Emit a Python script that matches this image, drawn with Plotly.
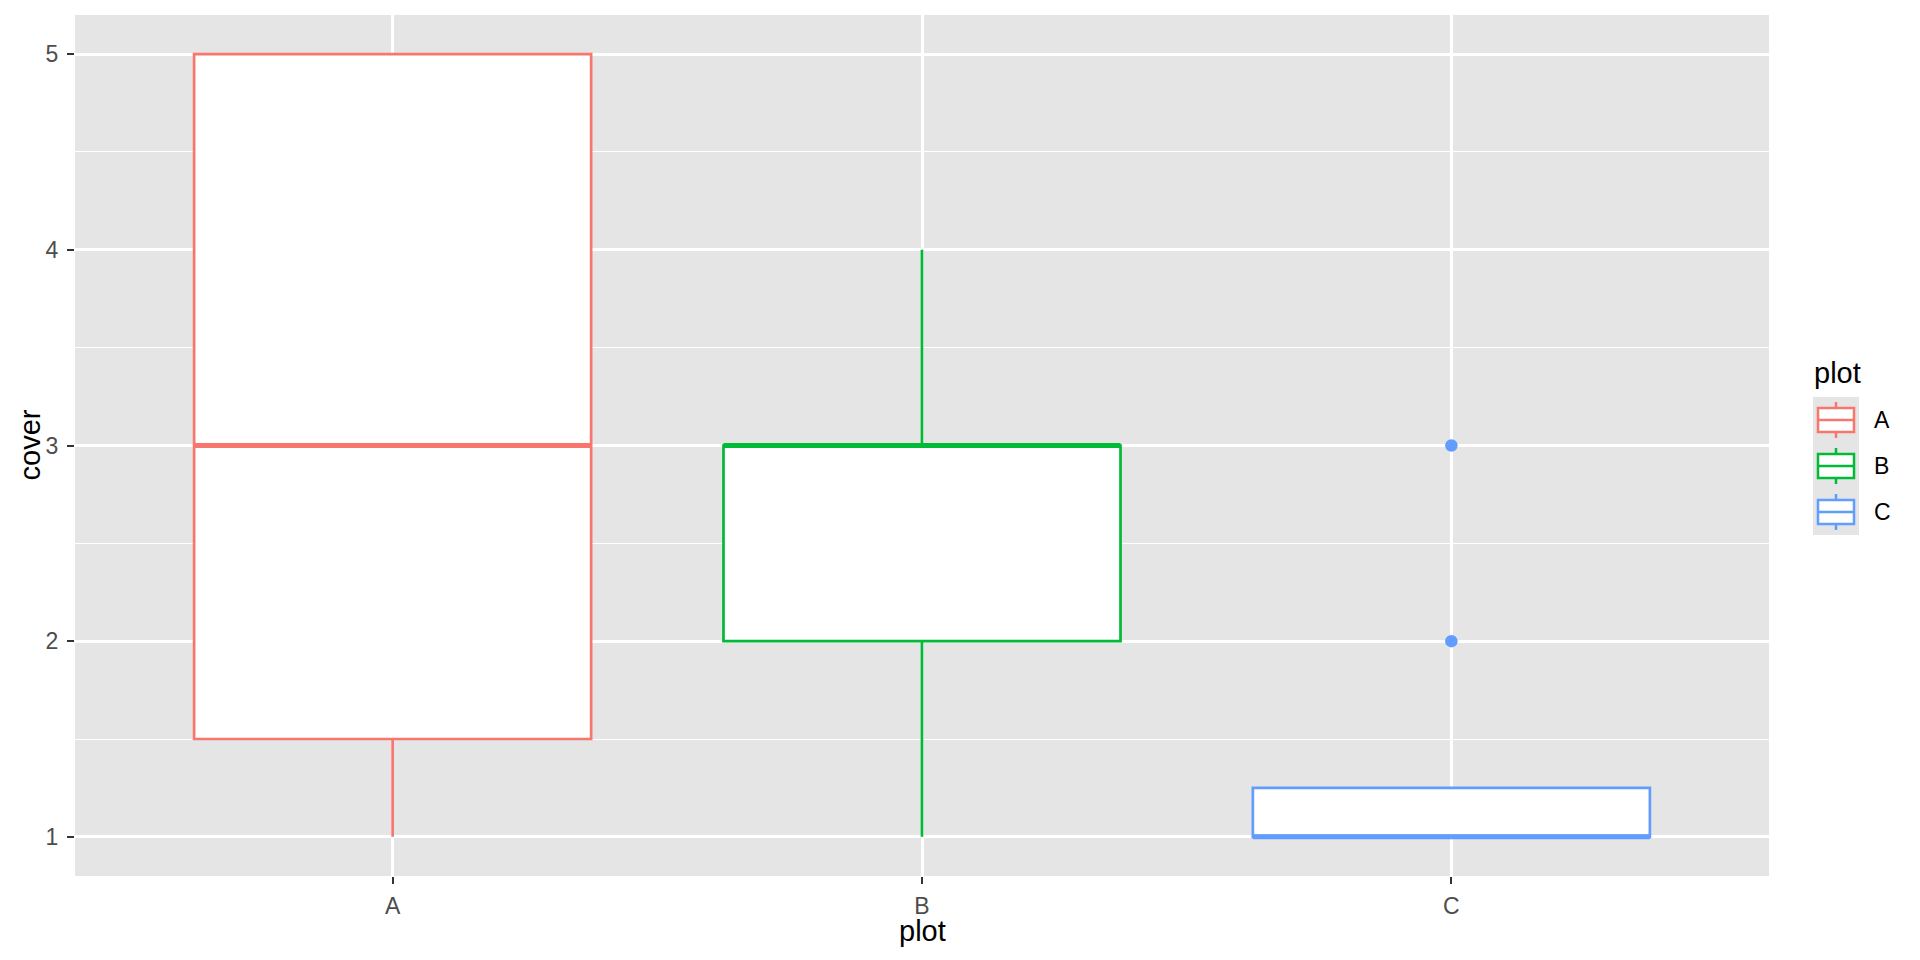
import plotly.graph_objects as go

# ---- data ----
categories = ["A", "B", "C"]
q1 = [1.5, 2.0, 1.0]
median = [3.0, 3.0, 1.0]
q3 = [5.0, 3.0, 1.25]
lower_whisker = [1.0, 1.0, 1.0]
upper_whisker = [5.0, 4.0, 1.25]
outlier_cat = ["C", "C"]
outlier_val = [2.0, 3.0]
colors = ["#F8766D", "#00BA38", "#619CFF"]

W, H = 1920, 960
L, R, T, B = 75, 1769, 15, 876
BOX_W = 0.75
FONT = "Liberation Sans, Arial, Helvetica, sans-serif"
PANEL = "#E5E5E5"

def pxx(p):
    return (p - L) / (R - L)

def pxy(p):
    return (B - p) / (B - T)

pos = {c: i + 1 for i, c in enumerate(categories)}

fig = go.Figure()
for i, c in enumerate(categories):
    fig.add_trace(go.Box(
        x=[pos[c]], q1=[q1[i]], median=[median[i]], q3=[q3[i]],
        lowerfence=[lower_whisker[i]], upperfence=[upper_whisker[i]],
        width=BOX_W, whiskerwidth=0, fillcolor="white",
        line=dict(color=colors[i], width=2.7), boxpoints=False,
        showlegend=False, hoverinfo="skip",
    ))
    # thicker median line (ggplot fatten = 2)
    fig.add_trace(go.Scatter(
        x=[pos[c] - BOX_W / 2, pos[c] + BOX_W / 2], y=[median[i], median[i]],
        mode="lines", line=dict(color=colors[i], width=5),
        showlegend=False, hoverinfo="skip",
    ))

fig.add_trace(go.Scatter(
    x=[pos[c] for c in outlier_cat], y=outlier_val, mode="markers",
    marker=dict(color=colors[2], size=12.5, line=dict(width=0)),
    showlegend=False, hoverinfo="skip",
))

shapes = []
annotations = []
# legend
shapes.append(dict(type="rect", xref="paper", yref="paper",
                   x0=pxx(1813), x1=pxx(1859), y0=pxy(535), y1=pxy(397),
                   fillcolor=PANEL, line=dict(width=0), layer="below"))
for i, c in enumerate(categories):
    top = 397 + 46 * i
    col = colors[i]
    shapes.append(dict(type="rect", xref="paper", yref="paper",
                       x0=pxx(1818), x1=pxx(1854), y0=pxy(top + 35), y1=pxy(top + 11),
                       fillcolor="white", line=dict(color=col, width=2.5)))
    shapes.append(dict(type="line", xref="paper", yref="paper",
                       x0=pxx(1818), x1=pxx(1854), y0=pxy(top + 23), y1=pxy(top + 23),
                       line=dict(color=col, width=2.5)))
    shapes.append(dict(type="line", xref="paper", yref="paper",
                       x0=pxx(1836), x1=pxx(1836), y0=pxy(top + 5), y1=pxy(top + 11),
                       line=dict(color=col, width=2.5)))
    shapes.append(dict(type="line", xref="paper", yref="paper",
                       x0=pxx(1836), x1=pxx(1836), y0=pxy(top + 35), y1=pxy(top + 41),
                       line=dict(color=col, width=2.5)))
    annotations.append(dict(text=c, xref="paper", yref="paper", x=pxx(1872), y=pxy(top + 23),
                            xanchor="left", yanchor="middle", showarrow=False,
                            font=dict(family=FONT, size=23, color="black")))
annotations.append(dict(text="plot", xref="paper", yref="paper", x=pxx(1812), y=pxy(373),
                        xanchor="left", yanchor="middle", showarrow=False,
                        font=dict(family=FONT, size=29, color="black")))
# axis titles
annotations.append(dict(text="plot", xref="paper", yref="paper", x=0.5, y=pxy(931),
                        xanchor="center", yanchor="middle", showarrow=False,
                        font=dict(family=FONT, size=29, color="black")))
annotations.append(dict(text="cover", xref="paper", yref="paper", x=pxx(29), y=0.5,
                        xanchor="center", yanchor="middle", showarrow=False, textangle=-90,
                        font=dict(family=FONT, size=29, color="black")))

fig.update_layout(
    width=W, height=H,
    margin=dict(l=L, r=W - R, t=T, b=H - B, pad=0),
    paper_bgcolor="white", plot_bgcolor=PANEL,
    shapes=shapes, annotations=annotations, showlegend=False,
    xaxis=dict(range=[0.4, 3.6], tickvals=[pos[c] for c in categories], ticktext=categories,
               showgrid=True, gridcolor="white", gridwidth=2.8, zeroline=False,
               ticks="outside", ticklen=7, tickwidth=2, tickcolor="#333333",
               tickfont=dict(family=FONT, size=23, color="#4D4D4D"), showline=False,
               ticklabelstandoff=2, fixedrange=True),
    yaxis=dict(range=[0.8, 5.2], tick0=1, dtick=1,
               showgrid=True, gridcolor="white", gridwidth=2.8, zeroline=False,
               minor=dict(dtick=0.5, tick0=1, showgrid=True, gridcolor="white", gridwidth=1.4),
               ticks="outside", ticklen=7, tickwidth=2, tickcolor="#333333",
               tickfont=dict(family=FONT, size=23, color="#4D4D4D"), showline=False,
               ticklabelstandoff=4, fixedrange=True),
)

fig.write_html("out.html", config={"displayModeBar": False},
               post_script="document.body.style.margin='0';document.body.style.overflow='hidden';")
